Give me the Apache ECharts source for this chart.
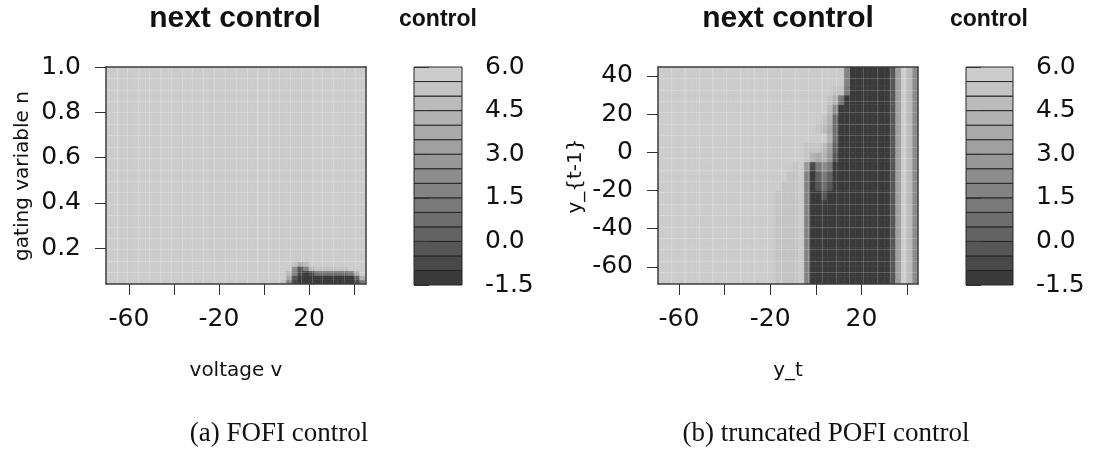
<!DOCTYPE html>
<html>
<head>
<meta charset="utf-8">
<script src="https://cdn.jsdelivr.net/npm/echarts@6/dist/echarts.min.js"></script>
<style>
  html, body { margin: 0; padding: 0; background: #fff; }
  #chart { width: 1094px; height: 450px; }
</style>
</head>
<body>
<div id="chart"></div>
<script>
// ---------------- DATA ----------------
// contour level breaks (colour key), 15 levels
const breaks = [-1.5, -1.0, -0.5, 0.0, 0.5, 1.0, 1.5, 2.0, 2.5, 3.0, 3.5, 4.0, 4.5, 5.0, 5.5, 6.0];
const keyTicks = [-1.5, 0.0, 1.5, 3.0, 4.5, 6.0];

// cell edges along the horizontal axis (both panels)
const xEdges = [-70, -67.5, -65, -62.5, -60, -57.5, -55, -52.5, -50, -47.5, -45, -42.5, -40, -37.5, -35, -32.5,
  -30, -27.5, -25, -22.5, -20, -17.5, -15, -12.5, -10, -7.5, -5, -2.5, 0, 2.5, 5, 7.5, 10, 12.5, 15, 17.5,
  20, 22.5, 25, 27.5, 30, 32.5, 35, 37.5, 40, 42.5, 45];

// panel (a): FOFI control, y = gating variable n
// each row string: one letter per x cell, 'A' = level 1 (-1.5..-1.0) ... 'O' = level 15 (5.5..6.0)
const fofiYEdges = [0.04, 0.06, 0.08, 0.10, 0.12, 0.14, 1.0];
const fofiRows = [ // bottom row first
  'OOOOOOOOOO' + 'OOOOOOOOOO' + 'OOOOOOOOOO' + 'ONGBAAAAAA' + 'AAAABF',
  'OOOOOOOOOO' + 'OOOOOOOOOO' + 'OOOOOOOOOO' + 'OOKCAAAAAA' + 'AAAADL',
  'OOOOOOOOOO' + 'OOOOOOOOOO' + 'OOOOOOOOOO' + 'OOMGBABEEE' + 'EEEFKO',
  'OOOOOOOOOO' + 'OOOOOOOOOO' + 'OOOOOOOOOO' + 'OOOHCGMNNN' + 'NNNOOO',
  'OOOOOOOOOO' + 'OOOOOOOOOO' + 'OOOOOOOOOO' + 'OOONKMOOOO' + 'OOOOOO',
  'OOOOOOOOOO' + 'OOOOOOOOOO' + 'OOOOOOOOOO' + 'OOOOOOOOOO' + 'OOOOOO'
];

// panel (b): truncated POFI control, y = y_{t-1}
const pofiYEdges = [-70, -65, -60, -55, -50, -45, -40, -35, -30, -25, -20, -15, -10, -5, 0, 5, 10, 15, 20, 25, 30, 35, 40, 45];
const pofiRows = [ // bottom row first
  'OOOOOOOOOO' + 'OOOOOOOOOO' + 'ONNNNOGAAA' + 'AAAAAAAAAA' + 'ACJOMH',
  'OOOOOOOOOO' + 'OOOOOOOOOO' + 'ONNNNOGAAA' + 'AAAAAAAAAA' + 'ACJOMH',
  'OOOOOOOOOO' + 'OOOOOOOOOO' + 'ONNNNOGAAA' + 'AAAAAAAAAA' + 'ACJOMH',
  'OOOOOOOOOO' + 'OOOOOOOOOO' + 'ONNNNOGAAA' + 'AAAAAAAAAA' + 'ACJOMH',
  'OOOOOOOOOO' + 'OOOOOOOOOO' + 'ONNNNOGAAA' + 'AAAAAAAAAA' + 'ACJOMH',
  'OOOOOOOOOO' + 'OOOOOOOOOO' + 'ONNNNOGAAA' + 'AAAAAAAAAA' + 'ACJOMH',
  'OOOOOOOOOO' + 'OOOOOOOOOO' + 'ONNNNOGAAA' + 'AAAAAAAAAA' + 'ACJOMH',
  'OOOOOOOOOO' + 'OOOOOOOOOO' + 'ONNNNOGAAA' + 'AAAAAAAAAA' + 'ACJOMH',
  'OOOOOOOOOO' + 'OOOOOOOOOO' + 'ONNNNOGAAA' + 'AAAAAAAAAA' + 'ACJOMH',
  'OOOOOOOOOO' + 'OOOOOOOOOO' + 'ONNNNOGAAC' + 'AAAAAAAAAA' + 'ACJOMH',
  'OOOOOOOOOO' + 'OOOOOOOOOO' + 'OONNNOGACE' + 'CAAAAAAAAA' + 'ACJOMH',
  'OOOOOOOOOO' + 'OOOOOOOOOO' + 'OOONNOGADF' + 'DAAAAAAAAA' + 'ACJOMH',
  'OOOOOOOOOO' + 'OOOOOOOOOO' + 'OOOONOIBFH' + 'FAAAAAAAAA' + 'ACJOMH',
  'OOOOOOOOOO' + 'OOOOOOOOOO' + 'OOOOOONLKL' + 'ICAAAAAAAA' + 'ACJOMH',
  'OOOOOOOOOO' + 'OOOOOOOOOO' + 'OOOOOONNNM' + 'JDAAAAAAAA' + 'ACJOMH',
  'OOOOOOOOOO' + 'OOOOOOOOOO' + 'OOOOOOOOOO' + 'LEAAAAAAAA' + 'ACJOMH',
  'OOOOOOOOOO' + 'OOOOOOOOOO' + 'OOOOOOOONM' + 'KEAAAAAAAA' + 'ACJOMH',
  'OOOOOOOOOO' + 'OOOOOOOOOO' + 'OOOOOOOOON' + 'LEAAAAAAAA' + 'ACJOMH',
  'OOOOOOOOOO' + 'OOOOOOOOOO' + 'OOOOOOOOOO' + 'MHAAAAAAAA' + 'ACJOMH',
  'OOOOOOOOOO' + 'OOOOOOOOOO' + 'OOOOOOOOOO' + 'NLFAAAAAAA' + 'ACJOMH',
  'OOOOOOOOOO' + 'OOOOOOOOOO' + 'OOOOOOOOOO' + 'ONNFAAAAAA' + 'ACJOMH',
  'OOOOOOOOOO' + 'OOOOOOOOOO' + 'OOOOOOOOOO' + 'OOOGAAAAAA' + 'ACJOMH',
  'OOOOOOOOOO' + 'OOOOOOOOOO' + 'OOOOOOOOOO' + 'OOOGAAAAAA' + 'ACJOMH'
];

// axis ticks / labels
const fofiXTicks = [-60, -40, -20, 0, 20, 40];
const fofiXLabels = [-60, -20, 20];
const fofiYTicks = [0.2, 0.4, 0.6, 0.8, 1.0];
const pofiXTicks = [-60, -40, -20, 0, 20, 40];
const pofiXLabels = [-60, -20, 20];
const pofiYTicks = [-60, -40, -20, 0, 20, 40];

// ---------------- BUILD ----------------
function levelColor(k) {
  const g = 1.5;
  const s = Math.pow(58 / 255, g), e = Math.pow(204 / 255, g);
  const c = Math.round(Math.pow(s + (e - s) * k / 14, 1 / g) * 255);
  return 'rgb(' + c + ',' + c + ',' + c + ')';
}
function colorFor(v) {
  let k = 0;
  for (let i = 0; i < breaks.length - 1; i++) if (v >= breaks[i]) k = i;
  return levelColor(k);
}
function cellsFrom(rows, yEdges) {
  const out = [];
  rows.forEach(function (row, j) {
    if (row.length !== xEdges.length - 1) console.error('row length', j, row.length);
    for (let i = 0; i < row.length; i++) {
      const k = row.charCodeAt(i) - 65;
      const v = (breaks[k] + breaks[k + 1]) / 2;
      out.push([xEdges[i], xEdges[i + 1], yEdges[j], yEdges[j + 1], v]);
    }
  });
  return out;
}
const keyCells = [];
for (let k = 0; k < breaks.length - 1; k++) keyCells.push([0, 1, breaks[k], breaks[k + 1], (breaks[k] + breaks[k + 1]) / 2]);

function renderCell(params, api) {
  const p0 = api.coord([api.value(0), api.value(3)]);
  const p1 = api.coord([api.value(1), api.value(2)]);
  const c = colorFor(api.value(4));
  return {
    type: 'rect',
    shape: { x: p0[0], y: p0[1], width: p1[0] - p0[0], height: p1[1] - p0[1] },
    style: { fill: c, stroke: c, lineWidth: 0.6 }
  };
}
function renderKey(params, api) {
  const p0 = api.coord([api.value(0), api.value(3)]);
  const p1 = api.coord([api.value(1), api.value(2)]);
  return {
    type: 'rect',
    shape: { x: p0[0], y: p0[1], width: p1[0] - p0[0], height: p1[1] - p0[1] },
    style: { fill: colorFor(api.value(4)), stroke: '#262626', lineWidth: 1 }
  };
}

const tickFont = { fontFamily: 'DejaVu Sans', fontSize: 25, color: '#111' };
const boxLine = { show: true, onZero: false, lineStyle: { color: '#3c3c3c', width: 1.5 } };
const artifactLine = { show: true, showMinLine: false, showMaxLine: false, lineStyle: { color: 'rgba(255,255,255,0.18)', width: 1 } };

function mainX(gridIndex, min, max, ticks, labels) {
  return {
    type: 'value', gridIndex: gridIndex, position: 'bottom', min: min, max: max, z: 10,
    axisLine: boxLine,
    axisTick: { show: true, length: 11, customValues: ticks, lineStyle: { color: '#333', width: 1 } },
    axisLabel: Object.assign({ show: true, margin: 23, customValues: labels }, tickFont),
    splitLine: { show: false }
  };
}
function mainY(gridIndex, min, max, ticks, fmt) {
  return {
    type: 'value', gridIndex: gridIndex, position: 'left', min: min, max: max, z: 10,
    axisLine: boxLine,
    axisTick: { show: true, length: 11, customValues: ticks, lineStyle: { color: '#333', width: 1 } },
    axisLabel: Object.assign({ show: true, margin: 25, customValues: ticks, formatter: fmt, padding: [4, 0, 0, 0] }, tickFont),
    splitLine: { show: false }
  };
}
function gridX(gridIndex, n) {
  return { type: 'value', gridIndex: gridIndex, position: 'top', min: 0, max: n, interval: 1, z: 10,
    axisLine: boxLine, axisTick: { show: false }, axisLabel: { show: false }, splitLine: artifactLine };
}
function gridY(gridIndex, n) {
  return { type: 'value', gridIndex: gridIndex, position: 'right', min: 0, max: n, interval: 1, z: 10,
    axisLine: boxLine, axisTick: { show: false }, axisLabel: { show: false }, splitLine: artifactLine };
}
function keyX(gridIndex) {
  return { type: 'value', gridIndex: gridIndex, min: 0, max: 1, show: false };
}
function keyY(gridIndex) {
  return {
    type: 'value', gridIndex: gridIndex, position: 'right', min: -1.5, max: 6.0, interval: 1.5, z: 10,
    axisLine: { show: false },
    axisTick: { show: true, length: 15, lineStyle: { color: '#333', width: 1 } },
    axisLabel: Object.assign({ show: true, margin: 23, padding: [4, 0, 0, 0], formatter: function (v) { return v.toFixed(1); } }, tickFont),
    splitLine: { show: false }
  };
}

function txt(text, x, y, font, opts) {
  return Object.assign({
    type: 'text', x: x, y: y, z: 100,
    style: Object.assign({ text: text, fill: '#111', align: 'center', verticalAlign: 'middle',
      textAlign: 'center', textVerticalAlign: 'middle' }, font)
  }, opts || {});
}
const boldTitle = { fontFamily: 'Liberation Sans', fontWeight: 'bold', fontSize: 30 };
const boldKey = { fontFamily: 'Liberation Sans', fontWeight: 'bold', fontSize: 23 };
const axisTitle = { fontFamily: 'DejaVu Sans', fontSize: 20 };
const captionFont = { fontFamily: 'Liberation Serif', fontSize: 27 };

const chart = echarts.init(document.getElementById('chart'), null, { renderer: 'canvas' });
chart.setOption({
  backgroundColor: '#ffffff',
  animation: false,
  grid: [
    { left: 106, top: 67, width: 260, height: 217, outerBoundsMode: 'none' },
    { left: 414, top: 67, width: 48, height: 218, outerBoundsMode: 'none' },
    { left: 658, top: 67, width: 260, height: 217, outerBoundsMode: 'none' },
    { left: 966, top: 67, width: 47, height: 218, outerBoundsMode: 'none' }
  ],
  xAxis: [
    mainX(0, -70.2, 45.3, fofiXTicks, fofiXLabels),
    gridX(0, 24),
    keyX(1),
    mainX(2, -69.2, 44.8, pofiXTicks, pofiXLabels),
    gridX(2, 19),
    keyX(3)
  ],
  yAxis: [
    mainY(0, 0.042, 1.0, fofiYTicks, function (v) { return v.toFixed(1); }),
    gridY(0, 19),
    keyY(1),
    mainY(2, -69, 44.7, pofiYTicks, function (v) { return String(v); }),
    gridY(2, 19),
    keyY(3)
  ],
  series: [
    { type: 'custom', name: 'FOFI next control', xAxisIndex: 0, yAxisIndex: 0, clip: true,
      renderItem: renderCell, data: cellsFrom(fofiRows, fofiYEdges), encode: { x: [0, 1], y: [2, 3] } },
    { type: 'custom', name: 'control key a', xAxisIndex: 2, yAxisIndex: 2, clip: false,
      renderItem: renderKey, data: keyCells, encode: { x: [0, 1], y: [2, 3] } },
    { type: 'custom', name: 'POFI next control', xAxisIndex: 3, yAxisIndex: 3, clip: true,
      renderItem: renderCell, data: cellsFrom(pofiRows, pofiYEdges), encode: { x: [0, 1], y: [2, 3] } },
    { type: 'custom', name: 'control key b', xAxisIndex: 5, yAxisIndex: 5, clip: false,
      renderItem: renderKey, data: keyCells, encode: { x: [0, 1], y: [2, 3] } }
  ],
  graphic: [
    txt('next control', 235, 19, boldTitle),
    txt('next control', 788, 19, boldTitle),
    txt('control', 438, 20, boldKey),
    txt('control', 989, 20, boldKey),
    txt('voltage v', 236, 371, axisTitle),
    txt('y_t', 788, 371, axisTitle),
    txt('gating variable n', 23, 176, axisTitle, { rotation: Math.PI / 2 }),
    txt('y_{t-1}', 576, 176, axisTitle, { rotation: Math.PI / 2 }),
    txt('(a) FOFI control', 279, 434, captionFont),
    txt('(b) truncated POFI control', 826, 434, captionFont)
  ]
});
</script>
</body>
</html>
